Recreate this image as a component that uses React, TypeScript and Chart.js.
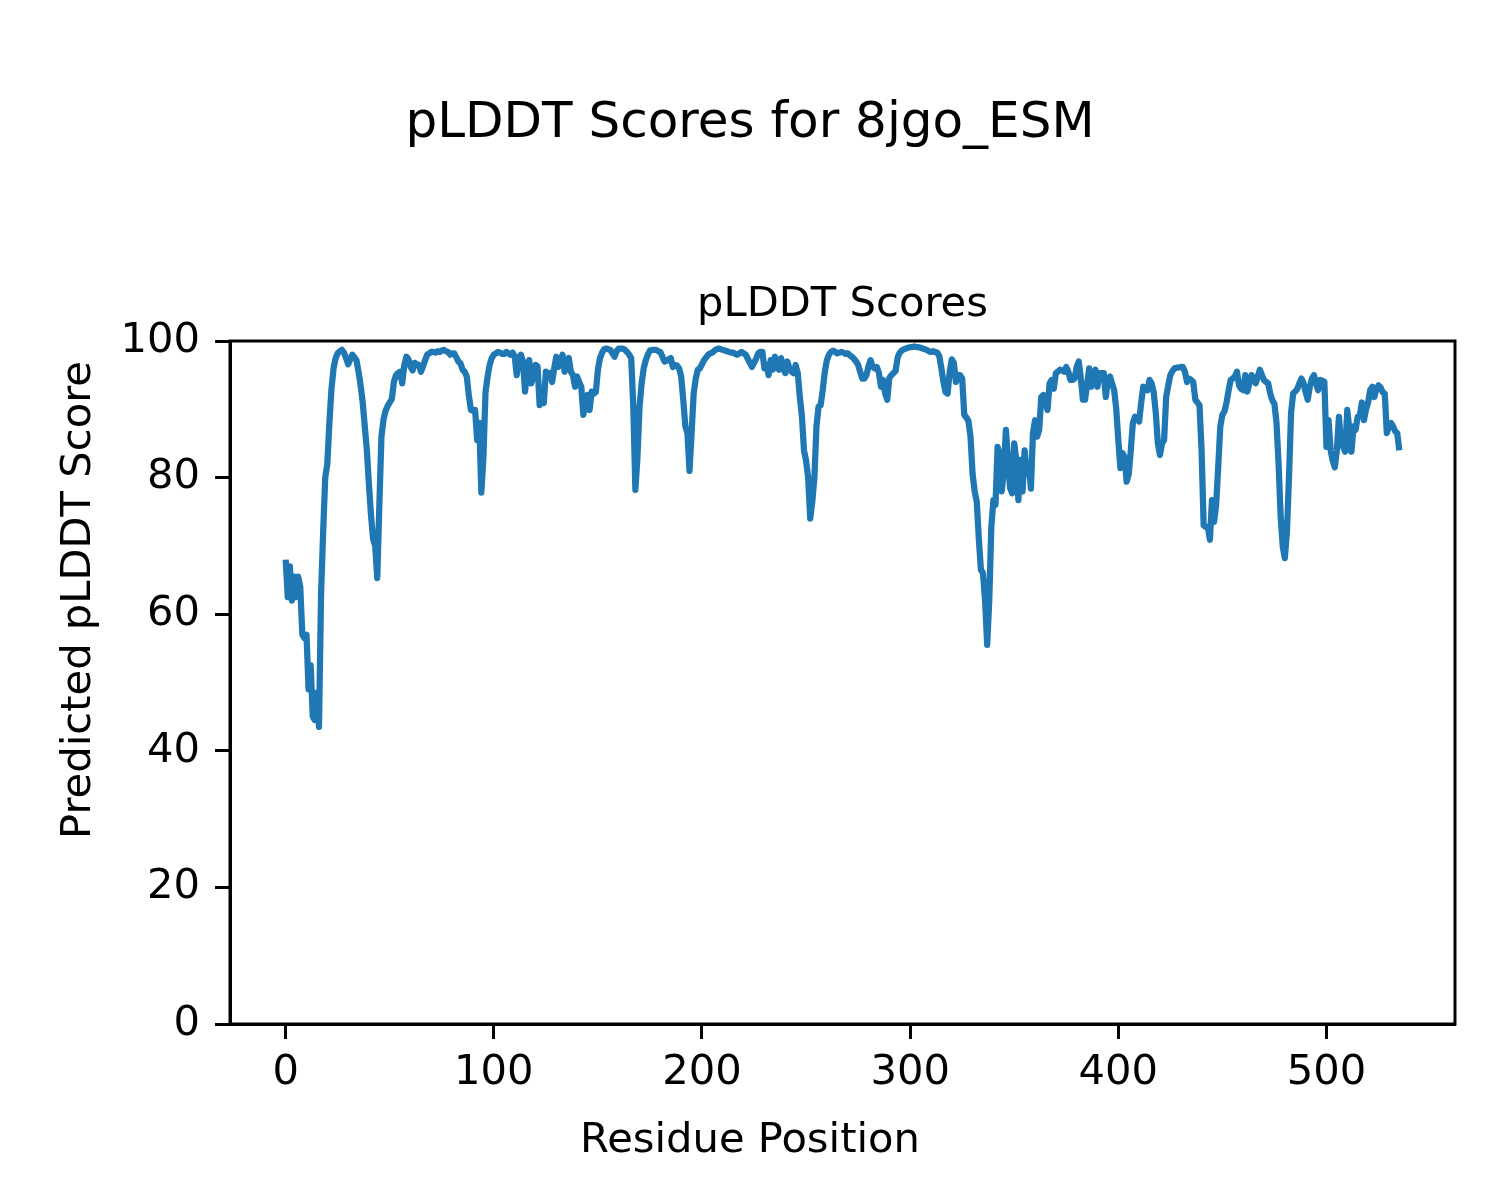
import React, { useEffect, useRef } from "react";
import { Chart, registerables } from "chart.js";

Chart.register(...registerables);

// pLDDT score per residue (residues 0..535)
const plddt: number[] = [
  // 0-9
  68, 62.5, 67, 62, 65.5, 62.5, 65.5, 64, 57, 56.5,
  // 10-19
  57, 49, 52.5, 45, 44.5, 48.5, 43.5, 63, 72, 80,
  // 20-29
  82, 88, 93, 96, 97.5, 98.2, 98.5, 98.7, 98.3, 97.5,
  // 30-39
  96.6, 97.3, 98, 97.6, 97.2, 95.5, 93.5, 91, 87.5, 84,
  // 40-49
  79, 74.5, 71, 70, 65.3, 76, 86, 88.5, 89.8, 90.5,
  // 50-59
  91, 91.5, 94, 95, 95.3, 95.5, 93.8, 96.5, 97.7, 97.3,
  // 60-69
  96.2, 95.7, 96.8, 96.6, 96.5, 95.5, 96.3, 97.2, 98, 98.2,
  // 70-79
  98.4, 98.4, 98.3, 98.5, 98.4, 98.6, 98.7, 98.5, 98.4, 98,
  // 80-89
  98.2, 98.2, 97.6, 97, 96.7, 95.8, 95.5, 94.8, 92, 89.9,
  // 90-99
  89.8, 89.9, 85.5, 88, 77.8, 83, 92.5, 94.8, 96.5, 97.5,
  // 100-109
  98, 98.2, 98.4, 98.3, 98.1, 98.1, 98.4, 98.2, 98, 98.3,
  // 110-119
  97.8, 95, 97.5, 98, 97, 92.6, 96, 97.2, 93.8, 95,
  // 120-129
  96.5, 96.3, 90.6, 93, 90.9, 95.5, 95, 95.3, 94, 96,
  // 130-139
  97.7, 96.2, 96.8, 98, 95.5, 96.5, 97.5, 95.5, 95, 93.3,
  // 140-149
  94.8, 94, 93.3, 89.2, 91, 92.1, 89.9, 92.6, 92.3, 92.5,
  // 150-159
  95.8, 97.5, 98.3, 98.8, 98.9, 98.8, 98.7, 98.2, 97.7, 98.5,
  // 160-169
  98.9, 98.9, 98.9, 98.7, 98.4, 98, 97.5, 90.4, 78.2, 83,
  // 170-179
  90.4, 93.8, 96, 97.2, 98, 98.6, 98.7, 98.7, 98.7, 98.5,
  // 180-189
  98.4, 97.7, 97, 97.1, 97.3, 97.5, 96.2, 96.5, 96.4, 96,
  // 190-199
  94.8, 91.4, 87.5, 86.5, 81, 86.5, 92.3, 94.5, 95.8, 96,
  // 200-209
  96.6, 97.2, 97.6, 98, 98.2, 98.3, 98.6, 98.8, 98.9, 98.8,
  // 210-219
  98.7, 98.6, 98.5, 98.4, 98.3, 98.3, 98.1, 98, 98.2, 98.4,
  // 220-229
  98.2, 98, 97.4, 96.8, 96.2, 96.8, 97.4, 98.2, 98.4, 98.4,
  // 230-239
  96, 96.5, 95, 97.2, 95.8, 97.7, 96.5, 95.8, 97.5, 96,
  // 240-249
  95.3, 97, 96, 95.5, 95.3, 96.5, 95.3, 91.8, 89, 84,
  // 250-259
  82.5, 80, 74, 76.5, 80, 87.5, 90.4, 90.6, 92.8, 95.5,
  // 260-269
  97.2, 98, 98.4, 98.6, 98.4, 98.2, 98.3, 98.4, 98.3, 98.1,
  // 270-279
  98.2, 97.9, 97.7, 97.4, 97, 96.5, 95.5, 94.5, 94.5, 95,
  // 280-289
  96.3, 97.2, 96.2, 96, 96.2, 95.3, 93.3, 94.3, 92.3, 91.4,
  // 290-299
  94.6, 95, 95.3, 95.6, 97.6, 98.3, 98.6, 98.8, 98.9, 99,
  // 300-309
  99.1, 99.1, 99.2, 99.1, 99.1, 99, 98.9, 98.8, 98.7, 98.5,
  // 310-319
  98.4, 98.5, 98.4, 98.3, 97.8, 96, 94, 92.5, 92.3, 95.5,
  // 320-329
  97.3, 96.8, 94, 95, 95, 94.5, 89.2, 88.8, 88.3, 86,
  // 330-339
  80.5, 78, 76.5, 71, 66.5, 66, 62, 55.5, 62, 72.8,
  // 340-349
  76.7, 76, 84.5, 83.5, 78, 81, 87, 82.6, 78.5, 77.7,
  // 350-359
  85, 82.6, 76.7, 82.6, 78, 84, 80.6, 82, 78.4, 86.5,
  // 360-369
  88.4, 86, 87, 91.8, 92.1, 91, 89.9, 93.8, 94.3, 93,
  // 370-379
  95.3, 95.5, 95.8, 95.7, 95.5, 96.2, 95.5, 94.3, 94.3, 94.5,
  // 380-389
  96.2, 97, 94.5, 91.4, 91.4, 93.5, 96, 93.3, 94.8, 95.8,
  // 390-399
  93.3, 95.3, 95.3, 95.3, 91.8, 94.3, 94.8, 93.8, 92.8, 90.1,
  // 400-409
  85.5, 81.4, 83.6, 83, 79.4, 80.5, 84, 88, 88.9, 88.5,
  // 410-419
  88.2, 91, 93.3, 93, 92.8, 94.3, 93.8, 92.5, 89.5, 85,
  // 420-429
  83.3, 85, 85.5, 91.8, 93.5, 95, 95.6, 96, 96.1, 96.1,
  // 430-439
  96.2, 96.2, 95.5, 94, 94.5, 94.3, 94, 91.4, 91, 90.6,
  // 440-449
  84, 73, 72.8, 72.8, 70.9, 76.7, 73.5, 76, 81.6, 87.5,
  // 450-459
  89.2, 89.7, 91, 92.8, 94.3, 94.5, 94.8, 95.5, 93.5, 93,
  // 460-469
  92.8, 95, 92.6, 93.8, 95, 94.5, 93.8, 94.8, 95.8, 95,
  // 470-479
  94.3, 94, 93.8, 92.3, 91.3, 90.8, 88, 82, 74.3, 69.9,
  // 480-489
  68.2, 72, 80, 89.5, 92.3, 92.6, 93, 93.8, 94.5, 93.8,
  // 490-499
  92.5, 91.4, 93.3, 94.5, 95, 93.8, 92.8, 94.3, 94.2, 94,
  // 500-509
  84.5, 88.4, 84, 82.5, 81.5, 84, 88.9, 85, 84.5, 83.8,
  // 510-519
  89.9, 87, 83.8, 87.5, 87, 88.9, 89, 91, 88.4, 90,
  // 520-529
  91, 92.8, 93.3, 91.8, 93, 93.5, 93.2, 92.5, 92.3, 86.5,
  // 530-535
  87.5, 88, 87.5, 86.8, 86.5, 84,
];

const residues: number[] = plddt.map((_, i) => i);

const xTicks: number[] = [0, 100, 200, 300, 400, 500];
const yTicks: number[] = [0, 20, 40, 60, 80, 100];

const figTitle = "pLDDT Scores for 8jgo_ESM";
const axTitle = "pLDDT Scores";
const xLabel = "Residue Position";
const yLabel = "Predicted pLDDT Score";

const FONT = "'DejaVu Sans', 'Liberation Sans', sans-serif";
const LINE_COLOR = "#1f77b4";

export default function App() {
  const ref = useRef<HTMLCanvasElement | null>(null);

  useEffect(() => {
    document.body.style.margin = "0";
    const canvas = ref.current;
    if (!canvas) return;

    const figText = {
      id: "figText",
      afterDraw(chart: any) {
        const ctx = chart.ctx as CanvasRenderingContext2D;
        const a = chart.chartArea;
        ctx.save();
        ctx.strokeStyle = "#000";
        ctx.lineWidth = 3;
        ctx.strokeRect(a.left, a.top, a.right - a.left, a.bottom - a.top);
        ctx.fillStyle = "#000";
        ctx.textAlign = "center";
        ctx.textBaseline = "alphabetic";
        ctx.font = `50px ${FONT}`;
        ctx.fillText(figTitle, 750, 137);
        ctx.font = `41.67px ${FONT}`;
        ctx.fillText(axTitle, (a.left + a.right) / 2, 316);
        ctx.fillText(xLabel, 750, 1152);
        ctx.translate(90, 600);
        ctx.rotate(-Math.PI / 2);
        ctx.fillText(yLabel, 0, 0);
        ctx.restore();
      },
    };

    const chart = new Chart(canvas, {
      type: "line",
      data: {
        datasets: [
          {
            data: plddt.map((v, i) => ({ x: residues[i], y: v })),
            borderColor: LINE_COLOR,
            backgroundColor: LINE_COLOR,
            borderWidth: 6.25,
            pointRadius: 0,
            tension: 0,
            borderJoinStyle: "round",
            borderCapStyle: "butt",
            fill: false,
          },
        ],
      },
      options: {
        responsive: false,
        maintainAspectRatio: false,
        animation: false,
        devicePixelRatio: 1,
        layout: { padding: { left: 0, right: 45, top: 341, bottom: 0 } },
        plugins: {
          legend: { display: false },
          title: { display: false },
          tooltip: { enabled: false },
        },
        scales: {
          x: {
            type: "linear",
            min: -26.75,
            max: 561.75,
            afterFit(scale: any) {
              scale.height = 176;
            },
            afterBuildTicks(scale: any) {
              scale.ticks = xTicks.map((v) => ({ value: v }));
            },
            grid: {
              drawOnChartArea: false,
              drawTicks: true,
              tickLength: 15,
              tickWidth: 3,
              tickColor: "#000",
            },
            border: { display: true, color: "#000", width: 3 },
            ticks: {
              color: "#000",
              font: { family: FONT, size: 41.67 },
              padding: 9,
              maxRotation: 0,
              autoSkip: false,
            },
          },
          y: {
            type: "linear",
            min: 0,
            max: 100,
            afterFit(scale: any) {
              scale.width = 230;
            },
            afterBuildTicks(scale: any) {
              scale.ticks = yTicks.map((v) => ({ value: v }));
            },
            grid: {
              drawOnChartArea: false,
              drawTicks: true,
              tickLength: 15,
              tickWidth: 3,
              tickColor: "#000",
            },
            border: { display: true, color: "#000", width: 3 },
            ticks: {
              color: "#000",
              font: { family: FONT, size: 41.67 },
              padding: 15,
              autoSkip: false,
            },
          },
        },
      },
      plugins: [figText],
    });

    return () => {
      chart.destroy();
    };
  }, []);

  return (
    <div style={{ width: 1500, height: 1200, background: "#fff" }}>
      <canvas ref={ref} width={1500} height={1200} style={{ display: "block", width: 1500, height: 1200 }} />
    </div>
  );
}
